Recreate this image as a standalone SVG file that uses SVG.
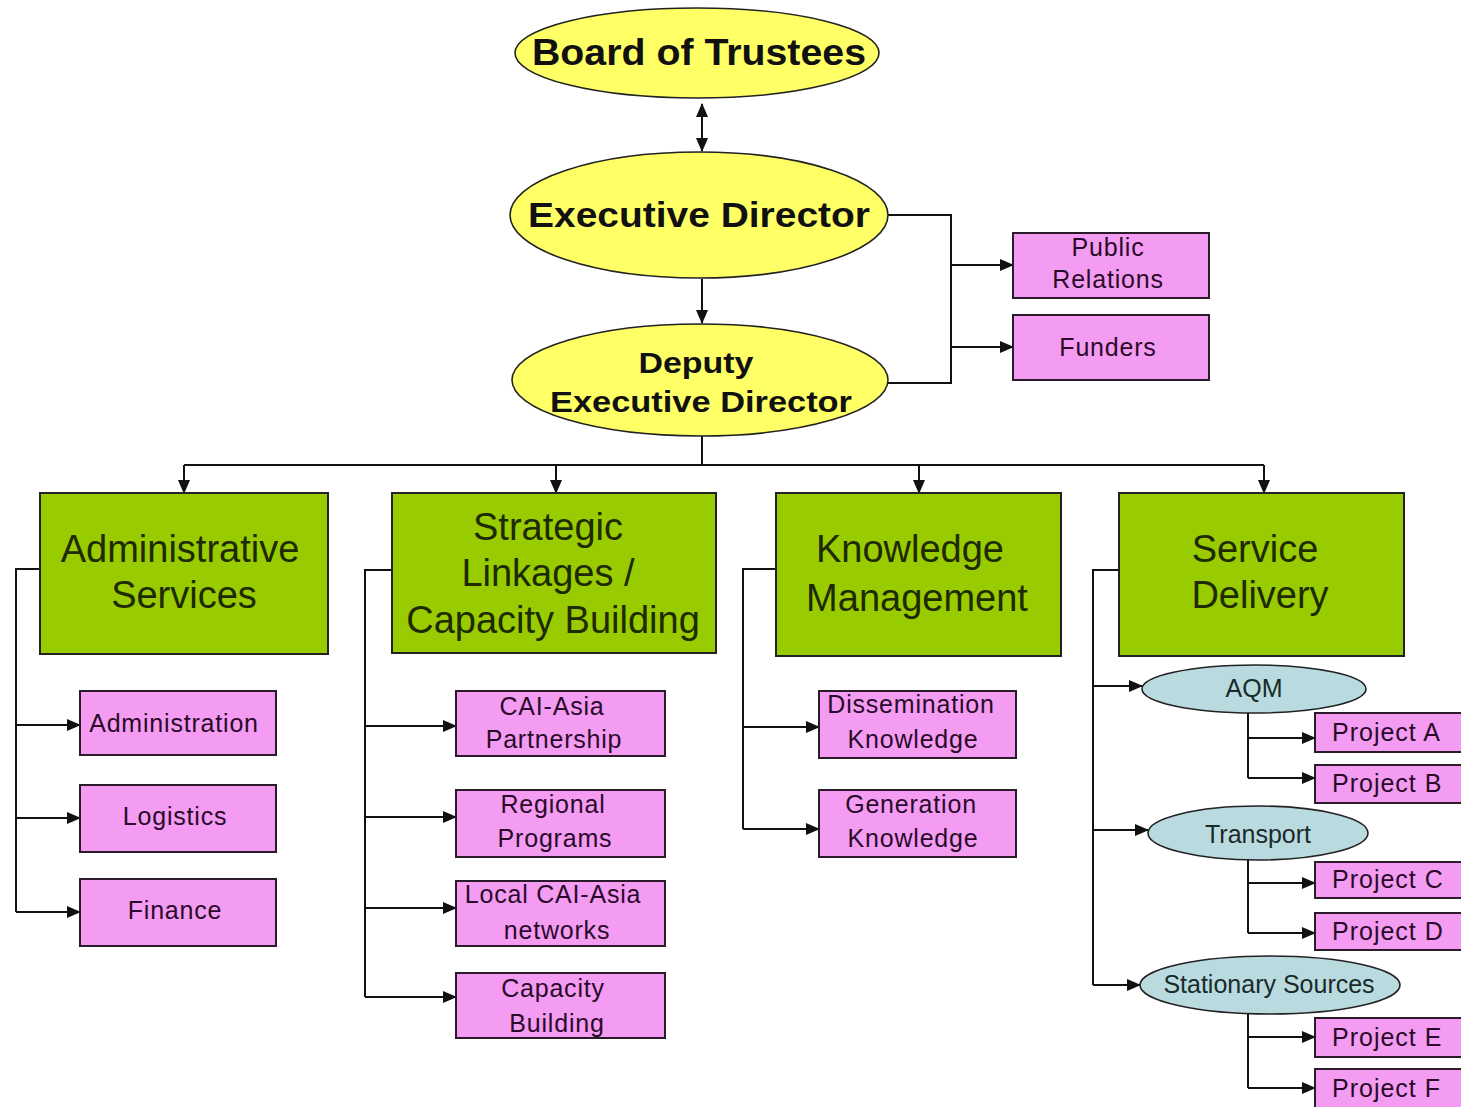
<svg xmlns="http://www.w3.org/2000/svg" width="1461" height="1107" viewBox="0 0 1461 1107">
  <style>
    .oval { fill: #ffff66; stroke: #222; stroke-width: 1.6; }
    .sub { fill: #b9dbe0; stroke: #222; stroke-width: 1.6; }
    .unit { fill: #99cc00; stroke: #222; stroke-width: 2; }
    .item { fill: #f49cf2; stroke: #2a1a2a; stroke-width: 2; }
    .head { font-family: "Liberation Sans", Arial, sans-serif; font-weight: bold; fill: #111; text-anchor: middle; }
    .unitT { font-family: "Liberation Sans", Arial, sans-serif; font-size: 38px; fill: #1e2a00; text-anchor: middle; }
    .itemT { font-family: "Liberation Sans", Arial, sans-serif; font-size: 25px; letter-spacing: 0.8px; fill: #2a0a2a; text-anchor: middle; }
    .projT { font-family: "Liberation Sans", Arial, sans-serif; font-size: 25px; letter-spacing: 1px; fill: #2a0a2a; }
    .subT { font-family: "Liberation Sans", Arial, sans-serif; font-size: 25px; fill: #1a2a2a; text-anchor: middle; }
    .wire { fill: none; stroke: #111; stroke-width: 2; }
  </style>
  <defs>
    <marker id="arrow" viewBox="0 0 14 14" refX="13" refY="7" markerWidth="14" markerHeight="14" markerUnits="userSpaceOnUse" orient="auto-start-reverse">
      <path d="M0,1 L14,7 L0,13 Z" fill="#111"/>
    </marker>
  </defs>

  <rect x="0" y="0" width="1461" height="1107" fill="#ffffff"/>

  <!-- connectors -->
  <g id="connectors" class="wire">
    <line x1="702" y1="104" x2="702" y2="151" marker-start="url(#arrow)" marker-end="url(#arrow)"/>
    <line x1="702" y1="279" x2="702" y2="323" marker-end="url(#arrow)"/>
    <polyline points="888,215 951,215 951,383 888,383"/>
    <line x1="951" y1="265" x2="1013" y2="265" marker-end="url(#arrow)"/>
    <line x1="951" y1="347" x2="1013" y2="347" marker-end="url(#arrow)"/>
    <line x1="702" y1="436" x2="702" y2="465"/>
    <line x1="184" y1="465" x2="1264" y2="465"/>
    <line x1="184" y1="465" x2="184" y2="493" marker-end="url(#arrow)"/>
    <line x1="556" y1="465" x2="556" y2="493" marker-end="url(#arrow)"/>
    <line x1="919" y1="465" x2="919" y2="493" marker-end="url(#arrow)"/>
    <line x1="1264" y1="465" x2="1264" y2="493" marker-end="url(#arrow)"/>
    <!-- administrative services -->
    <polyline points="40,569 16,569 16,912"/>
    <line x1="16" y1="725" x2="80" y2="725" marker-end="url(#arrow)"/>
    <line x1="16" y1="818" x2="80" y2="818" marker-end="url(#arrow)"/>
    <line x1="16" y1="912" x2="80" y2="912" marker-end="url(#arrow)"/>
    <!-- strategic linkages -->
    <polyline points="392,570 365,570 365,997"/>
    <line x1="365" y1="726" x2="456" y2="726" marker-end="url(#arrow)"/>
    <line x1="365" y1="817" x2="456" y2="817" marker-end="url(#arrow)"/>
    <line x1="365" y1="908" x2="456" y2="908" marker-end="url(#arrow)"/>
    <line x1="365" y1="997" x2="456" y2="997" marker-end="url(#arrow)"/>
    <!-- knowledge management -->
    <polyline points="776,569 743,569 743,829"/>
    <line x1="743" y1="727" x2="819" y2="727" marker-end="url(#arrow)"/>
    <line x1="743" y1="829" x2="819" y2="829" marker-end="url(#arrow)"/>
    <!-- service delivery -->
    <polyline points="1119,570 1093,570 1093,985"/>
    <line x1="1093" y1="686" x2="1142" y2="686" marker-end="url(#arrow)"/>
    <line x1="1093" y1="830" x2="1148" y2="830" marker-end="url(#arrow)"/>
    <line x1="1093" y1="985" x2="1140" y2="985" marker-end="url(#arrow)"/>
    <polyline points="1248,713 1248,778"/>
    <line x1="1248" y1="738" x2="1315" y2="738" marker-end="url(#arrow)"/>
    <line x1="1248" y1="778" x2="1315" y2="778" marker-end="url(#arrow)"/>
    <polyline points="1248,859 1248,933"/>
    <line x1="1248" y1="883" x2="1315" y2="883" marker-end="url(#arrow)"/>
    <line x1="1248" y1="933" x2="1315" y2="933" marker-end="url(#arrow)"/>
    <polyline points="1248,1013 1248,1088"/>
    <line x1="1248" y1="1037" x2="1315" y2="1037" marker-end="url(#arrow)"/>
    <line x1="1248" y1="1088" x2="1315" y2="1088" marker-end="url(#arrow)"/>
  </g>

  <!-- leadership -->
  <g id="board">
    <ellipse class="oval" cx="697" cy="53" rx="182" ry="45"/>
    <text class="head" x="699" y="65" font-size="37" textLength="334" lengthAdjust="spacingAndGlyphs">Board of Trustees</text>
  </g>
  <g id="executive-director">
    <ellipse class="oval" cx="699" cy="215" rx="189" ry="63"/>
    <text class="head" x="699" y="227" font-size="35" textLength="342" lengthAdjust="spacingAndGlyphs">Executive Director</text>
  </g>
  <g id="deputy-director">
    <ellipse class="oval" cx="700" cy="380" rx="188" ry="56"/>
    <text class="head" x="696" y="373" font-size="30" textLength="115" lengthAdjust="spacingAndGlyphs">Deputy</text>
    <text class="head" x="701" y="412" font-size="30" textLength="302" lengthAdjust="spacingAndGlyphs">Executive Director</text>
  </g>
  <g id="public-relations">
    <rect class="item" x="1013" y="233" width="196" height="65"/>
    <text class="itemT" x="1108" y="256">Public</text>
    <text class="itemT" x="1108" y="288">Relations</text>
  </g>
  <g id="funders">
    <rect class="item" x="1013" y="315" width="196" height="65"/>
    <text class="itemT" x="1108" y="356">Funders</text>
  </g>

  <!-- units -->
  <g id="administrative-services">
    <rect class="unit" x="40" y="493" width="288" height="161"/>
    <text class="unitT" x="180" y="562">Administrative</text>
    <text class="unitT" x="184" y="608">Services</text>
  </g>
  <g id="strategic-linkages">
    <rect class="unit" x="392" y="493" width="324" height="160"/>
    <text class="unitT" x="548" y="540">Strategic</text>
    <text class="unitT" x="548" y="586">Linkages /</text>
    <text class="unitT" x="553" y="633">Capacity Building</text>
  </g>
  <g id="knowledge-management">
    <rect class="unit" x="776" y="493" width="285" height="163"/>
    <text class="unitT" x="910" y="562">Knowledge</text>
    <text class="unitT" x="917" y="611">Management</text>
  </g>
  <g id="service-delivery">
    <rect class="unit" x="1119" y="493" width="285" height="163"/>
    <text class="unitT" x="1255" y="562">Service</text>
    <text class="unitT" x="1260" y="608">Delivery</text>
  </g>

  <!-- administrative services items -->
  <g id="administration">
    <rect class="item" x="80" y="691" width="196" height="64"/>
    <text class="itemT" x="174" y="732">Administration</text>
  </g>
  <g id="logistics">
    <rect class="item" x="80" y="785" width="196" height="67"/>
    <text class="itemT" x="175" y="825">Logistics</text>
  </g>
  <g id="finance">
    <rect class="item" x="80" y="879" width="196" height="67"/>
    <text class="itemT" x="175" y="919">Finance</text>
  </g>

  <!-- strategic linkages items -->
  <g id="cai-asia-partnership">
    <rect class="item" x="456" y="691" width="209" height="65"/>
    <text class="itemT" x="552" y="715">CAI-Asia</text>
    <text class="itemT" x="554" y="748">Partnership</text>
  </g>
  <g id="regional-programs">
    <rect class="item" x="456" y="790" width="209" height="67"/>
    <text class="itemT" x="553" y="813">Regional</text>
    <text class="itemT" x="555" y="847">Programs</text>
  </g>
  <g id="local-networks">
    <rect class="item" x="456" y="881" width="209" height="65"/>
    <text class="itemT" x="553" y="903">Local CAI-Asia</text>
    <text class="itemT" x="557" y="939">networks</text>
  </g>
  <g id="capacity-building">
    <rect class="item" x="456" y="973" width="209" height="65"/>
    <text class="itemT" x="553" y="997">Capacity</text>
    <text class="itemT" x="557" y="1032">Building</text>
  </g>

  <!-- knowledge management items -->
  <g id="dissemination">
    <rect class="item" x="819" y="691" width="197" height="67"/>
    <text class="itemT" x="911" y="713">Dissemination</text>
    <text class="itemT" x="913" y="748">Knowledge</text>
  </g>
  <g id="generation">
    <rect class="item" x="819" y="790" width="197" height="67"/>
    <text class="itemT" x="911" y="813">Generation</text>
    <text class="itemT" x="913" y="847">Knowledge</text>
  </g>

  <!-- service delivery programmes -->
  <g id="aqm">
    <ellipse class="sub" cx="1254" cy="689" rx="112" ry="24"/>
    <text class="subT" x="1254" y="697">AQM</text>
  </g>
  <g id="transport">
    <ellipse class="sub" cx="1258" cy="833" rx="110" ry="27"/>
    <text class="subT" x="1258" y="843">Transport</text>
  </g>
  <g id="stationary-sources">
    <ellipse class="sub" cx="1270" cy="985" rx="130" ry="29"/>
    <text class="subT" x="1269" y="993">Stationary Sources</text>
  </g>
  <g id="project-a">
    <rect class="item" x="1315" y="713" width="160" height="39"/>
    <text class="projT" x="1332" y="741">Project A</text>
  </g>
  <g id="project-b">
    <rect class="item" x="1315" y="765" width="160" height="38"/>
    <text class="projT" x="1332" y="792">Project B</text>
  </g>
  <g id="project-c">
    <rect class="item" x="1315" y="862" width="160" height="36"/>
    <text class="projT" x="1332" y="888">Project C</text>
  </g>
  <g id="project-d">
    <rect class="item" x="1315" y="913" width="160" height="37"/>
    <text class="projT" x="1332" y="940">Project D</text>
  </g>
  <g id="project-e">
    <rect class="item" x="1315" y="1018" width="160" height="39"/>
    <text class="projT" x="1332" y="1046">Project E</text>
  </g>
  <g id="project-f">
    <rect class="item" x="1315" y="1069" width="160" height="50"/>
    <text class="projT" x="1332" y="1097">Project F</text>
  </g>
</svg>
